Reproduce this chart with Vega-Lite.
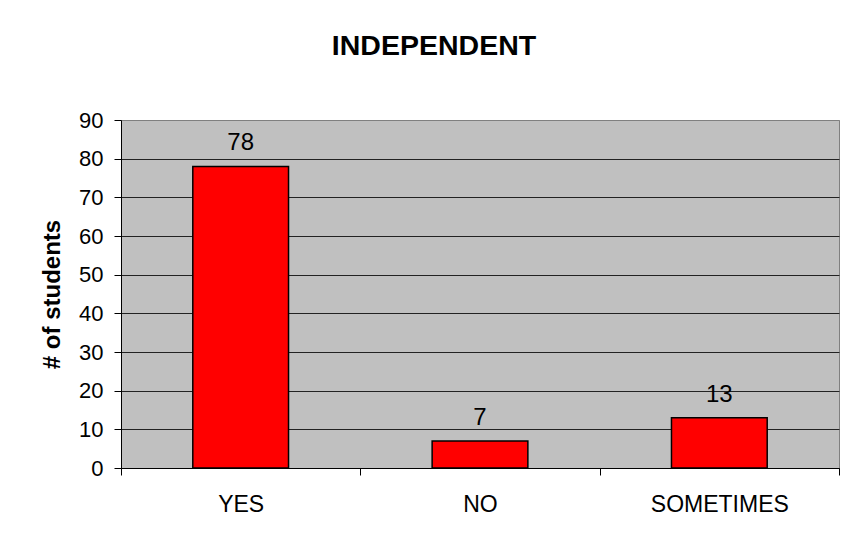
{
  "$schema": "https://vega.github.io/schema/vega-lite/v6.json",
  "autosize": "none",
  "width": 718,
  "height": 348,
  "padding": {"left": 121, "top": 120, "right": 4, "bottom": 67},
  "background": "white",
  "title": {
    "text": "INDEPENDENT",
    "font": "Liberation Sans",
    "fontSize": 28.5,
    "fontWeight": "bold",
    "color": "#000000",
    "anchor": "middle",
    "baseline": "alphabetic",
    "offset": 26,
    "dx": -46
  },
  "data": {
    "values": [
      {"answer": "YES", "students": 78},
      {"answer": "NO", "students": 7},
      {"answer": "SOMETIMES", "students": 13}
    ]
  },
  "encoding": {
    "x": {
      "field": "answer",
      "type": "nominal",
      "sort": null,
      "scale": {"paddingInner": 0, "paddingOuter": 0},
      "axis": {
        "title": null,
        "labelAngle": 0,
        "labelFont": "Liberation Sans",
        "labelFontSize": 23,
        "labelColor": "#000000",
        "labelBaseline": "alphabetic",
        "labelPadding": 36,
        "tickBand": "extent",
        "ticks": true,
        "tickSize": 7,
        "tickColor": "#000000",
        "domainColor": "#000000",
        "domainWidth": 1,
        "grid": false
      }
    },
    "y": {
      "field": "students",
      "type": "quantitative",
      "scale": {"domain": [0, 90], "nice": false},
      "axis": {
        "title": "# of students",
        "titleFont": "Liberation Sans",
        "titleFontSize": 24,
        "titleFontWeight": "bold",
        "titleColor": "#000000",
        "titlePadding": 14,
        "values": [0, 10, 20, 30, 40, 50, 60, 70, 80, 90],
        "labelFont": "Liberation Sans",
        "labelFontSize": 22,
        "labelColor": "#000000",
        "labelPadding": 11,
        "tickSize": 7,
        "tickColor": "#000000",
        "domainColor": "#000000",
        "grid": true,
        "gridColor": {"condition": {"test": "datum.value === 90", "value": "#808080"}, "value": "#222222"},
        "gridOpacity": 1
      }
    }
  },
  "layer": [
    {
      "mark": {"type": "bar", "width": {"band": 0.4}, "color": "#FF0000", "stroke": "#000000", "strokeWidth": 1.5}
    },
    {
      "mark": {"type": "text", "font": "Liberation Sans", "fontSize": 24, "color": "#000000", "baseline": "alphabetic", "dy": -16},
      "encoding": {"text": {"field": "students", "type": "quantitative"}}
    }
  ],
  "config": {
    "view": {"fill": "#C0C0C0", "stroke": "#808080", "strokeWidth": 1}
  }
}
